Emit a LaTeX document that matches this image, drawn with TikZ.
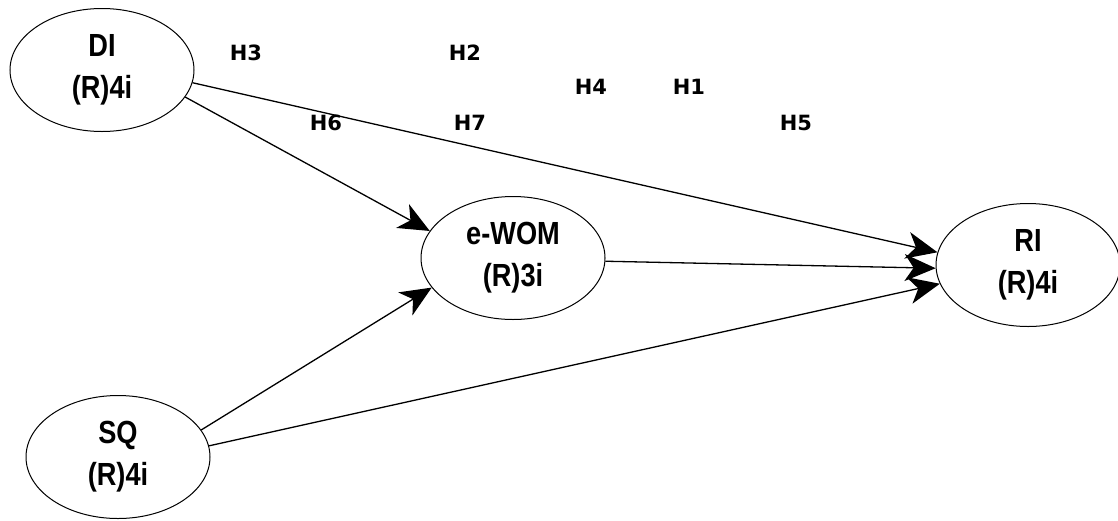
\documentclass[tikz,border=0pt]{standalone}
\usepackage{fontspec}
\newfontfamily\ellfont{Liberation Sans}[FakeStretch=0.85]
\newfontfamily\hfont{DejaVu Sans}
\usetikzlibrary{shapes.geometric,arrows.meta}

\tikzset{
  construct/.style={ellipse, draw=black, line width=1pt, fill=white,
    inner sep=0pt, minimum width=184pt, minimum height=123pt,
    align=center, font=\ellfont\bfseries\fontsize{32}{42}\selectfont},
  path/.style={draw=black, line width=1.3pt,
    -{Stealth[length=31pt, width=27pt, inset=9pt]}},
  hyp/.style={font=\hfont\bfseries\fontsize{21}{24}\selectfont, inner sep=0pt}
}

\begin{document}
\begin{tikzpicture}[x=1pt, y=-1pt]
\useasboundingbox (0,0) rectangle (1118,520);

% latent constructs
\node[construct] (DI)   at (102,70)   {DI\\(R)4i};
\node[construct] (EWOM) at (513,258)  {e-WOM\\(R)3i};
\node[construct] (RI)   at (1028,265) {RI\\(R)4i};
\node[construct] (SQ)   at (118,457)  {SQ\\(R)4i};

% structural paths
\draw[path] (DI.-8)    -- (RI.172);
\draw[path] (DI.-18)   -- (EWOM.162);
\draw[path] (EWOM.-2)  -- (RI.182);
\draw[path] (SQ.18)    -- (EWOM.200);
\draw[path] (SQ.7.5)   -- (RI.192);

% hypothesis labels
\node[hyp] (h3) at (246,53)  {H3};
\node[hyp] (h2) at (465,53)  {H2};
\node[hyp] (h4) at (591,87)  {H4};
\node[hyp] (h1) at (689,87)  {H1};
\node[hyp] (h6) at (326,123) {H6};
\node[hyp] (h7) at (470,123) {H7};
\node[hyp] (h5) at (796,123) {H5};
\end{tikzpicture}
\end{document}
